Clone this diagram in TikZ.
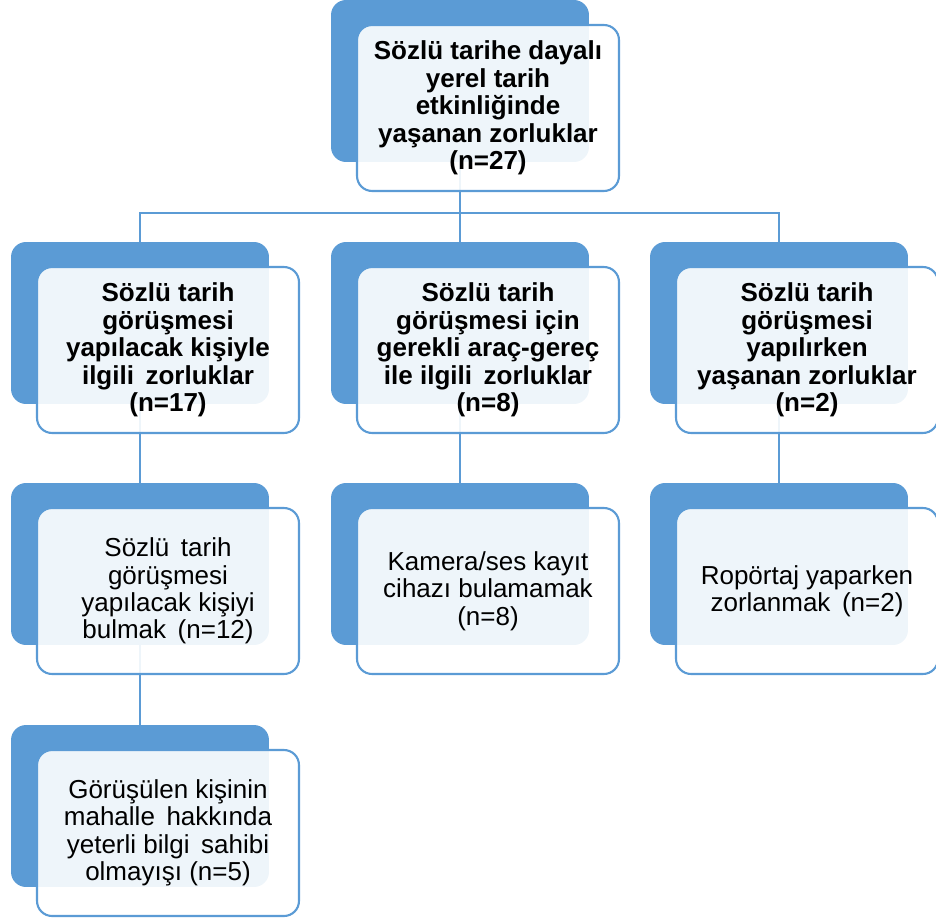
\documentclass[tikz,border=0pt]{standalone}
\usepackage{fontspec}
\setmainfont{Liberation Sans}
\usepackage{tikz}
\definecolor{boxblue}{RGB}{91,155,213}
\tikzset{
	backbox/.style={draw=none, fill=boxblue, rounded corners=.3cm, minimum width=5.16cm, minimum height=3.24cm, inner sep=0pt},
	frontbox/.style={draw=boxblue, line width=1.2pt, fill=white, fill opacity=.9, text opacity=1, rounded corners=.3cm, minimum width=5.24cm, minimum height=3.32cm, inner sep=0pt, align=center, font=\fontsize{14.8}{15.6}\selectfont},
	headbox/.style={frontbox, font=\fontsize{14.8}{15.6}\selectfont\bfseries},
	link/.style={draw=boxblue, line width=1.2pt},
}

\begin{document}
\begin{tikzpicture}[x=.02cm, y=-.02cm]
		\useasboundingbox(0, 0) rectangle (936, 922);
		% back boxes
		\node[backbox](rootb) at (460, 81){};
		\node[backbox](kisib) at (140, 323){};
		\node[backbox](aracb) at (460, 323){};
		\node[backbox](gorub) at (779, 323){};
		\node[backbox](bulb) at (140, 564){};
		\node[backbox](kamb) at (460, 564){};
		\node[backbox](ropb) at (779, 564){};
		\node[backbox](bilb) at (140, 806){};
		% connectors
		\coordinate (split) at (460, 213);
		\draw[link](rootb.south)--(split);
		\draw[link](split)-|(kisib.north);
		\draw[link](split)-|(gorub.north);
		\draw[link](split)--(aracb.north);
		\draw[link](kisib.south)--(bulb.north);
		\draw[link](bulb.south)--(bilb.north);
		\draw[link](aracb.south)--(kamb.north);
		\draw[link](gorub.south)--(ropb.north);
		% front boxes
		\node[headbox](root) at ([shift={(28, 27)}]rootb.center){Sözlü tarihe dayalı\\yerel tarih\\etkinliğinde\\yaşanan zorluklar\\(n=27)};
		\node[headbox](kisi) at ([shift={(28, 27)}]kisib.center){Sözlü tarih\\görüşmesi\\yapılacak kişiyle\\ilgili\, zorluklar\\(n=17)};
		\node[headbox](arac) at ([shift={(28, 27)}]aracb.center){Sözlü tarih\\görüşmesi için\\gerekli araç-gereç\\ile ilgili\, zorluklar\\(n=8)};
		\node[headbox](goru) at ([shift={(28, 27)}]gorub.center){Sözlü tarih\\görüşmesi\\yapılırken\\yaşanan zorluklar\\(n=2)};
		\node[frontbox](bul) at ([shift={(28, 27)}]bulb.center){Sözlü\, tarih\\görüşmesi\\yapılacak kişiyi\\bulmak\, (n=12)};
		\node[frontbox](kam) at ([shift={(28, 27)}]kamb.center){Kamera/ses kayıt\\cihazı bulamamak\\(n=8)};
		\node[frontbox](rop) at ([shift={(28, 27)}]ropb.center){Ropörtaj yaparken\\zorlanmak\, (n=2)};
		\node[frontbox](bil) at ([shift={(28, 27)}]bilb.center){Görüşülen kişinin\\mahalle\, hakkında\\yeterli bilgi\, sahibi\\olmayışı (n=5)};
	\end{tikzpicture}
\end{document}
